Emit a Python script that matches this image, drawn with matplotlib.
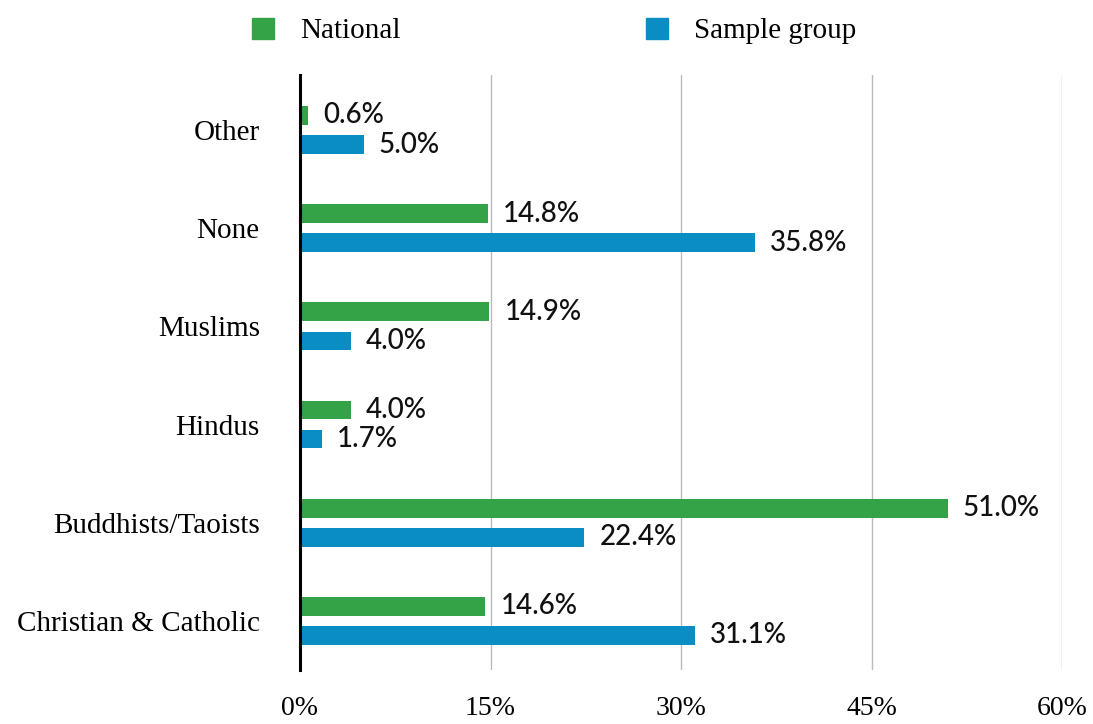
import matplotlib
matplotlib.use("Agg")
import matplotlib.pyplot as plt
from matplotlib.patches import Patch
import numpy as np

# data, bottom category first
categories = ["Christian & Catholic", "Buddhists/Taoists", "Hindus", "Muslims", "None", "Other"]
national = [14.6, 51.0, 4.0, 14.9, 14.8, 0.6]
sample_group = [31.1, 22.4, 1.7, 4.0, 35.8, 5.0]
xticks = [0, 15, 30, 45, 60]
xtick_labels = ["0%", "15%", "30%", "45%", "60%"]

green = "#34a246"
blue = "#0a8dc3"
serif = ["Liberation Serif", "DejaVu Serif"]
sans = ["Lato", "DejaVu Sans"]

fig = plt.figure(figsize=(10.93, 7.24), dpi=100)
ax = fig.add_axes([300 / 1093, 54 / 724, 762 / 1093, 595 / 724])

y = np.arange(len(categories))
h = 0.19
off = 0.148
ax.barh(y + off, national, height=h, color=green, zorder=3)
ax.barh(y - off, sample_group, height=h, color=blue, zorder=3)

for yi, v in zip(y, national):
    ax.text(v + 1.2, yi + off, f"{v:.1f}%", va="center", ha="left",
            fontsize=20, fontweight="medium", family=sans, color="#111111")
for yi, v in zip(y, sample_group):
    ax.text(v + 1.2, yi - off, f"{v:.1f}%", va="center", ha="left",
            fontsize=20, fontweight="medium", family=sans, color="#111111")

ax.set_xlim(0, 60)
ax.set_ylim(-0.5, 5.56)
ax.set_xticks(xticks)
ax.set_xticklabels(xtick_labels, family=serif, fontsize=20)
ax.set_yticks(y)
ax.set_yticklabels(categories, family=serif, fontsize=21)
ax.tick_params(axis="x", length=0, pad=19)
ax.tick_params(axis="y", length=0, pad=29)

ax.grid(axis="x", color="#bbbbbb", linewidth=1, zorder=0)
for s in ["top", "right", "bottom"]:
    ax.spines[s].set_visible(False)
ax.spines["left"].set_linewidth(2.2)
ax.spines["left"].set_color("black")
ax.spines["left"].set_zorder(4)

handles = [Patch(color=green), Patch(color=blue)]
fig.legend(handles, ["National", "Sample group"], loc="upper left",
           bbox_to_anchor=(226 / 1093, 1.012), ncol=2, frameon=False,
           prop={"family": serif, "size": 21}, handlelength=0.75,
           handleheight=0.75, handletextpad=0.9, columnspacing=8.4)

fig.savefig("out.png", dpi=100)
